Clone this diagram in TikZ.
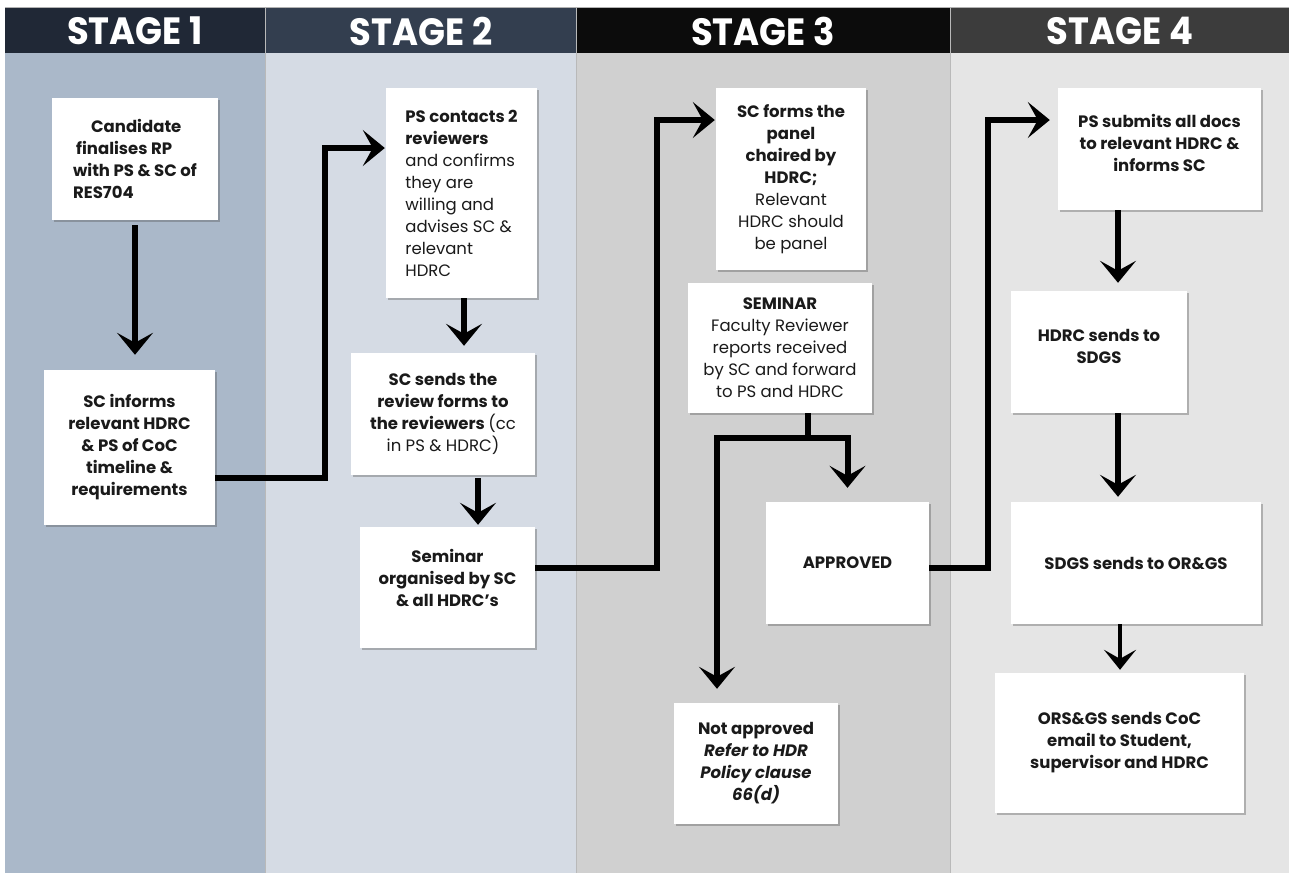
\documentclass[tikz,border=0pt]{standalone}
\usepackage{fontspec}
\setmainfont{Poppins}
\usetikzlibrary{arrows.meta,shadows,calc}
\definecolor{hA}{HTML}{202836}
\definecolor{hB}{HTML}{333E4F}
\definecolor{hC}{HTML}{0C0C0C}
\definecolor{hD}{HTML}{3C3C3C}
\definecolor{bA}{HTML}{AAB8C9}
\definecolor{bB}{HTML}{D5DBE4}
\definecolor{bC}{HTML}{D0D0D0}
\definecolor{bD}{HTML}{E5E5E5}
\definecolor{ink}{HTML}{1A1A1A}
\tikzset{
  box/.style={fill=white, inner sep=3pt, align=center, text=ink,
    font=\fontsize{16.5}{22}\selectfont,
    drop shadow={shadow xshift=1.5pt, shadow yshift=-2pt, opacity=0.35, fill=black!70}},
  hdrtext/.style={text=white, font=\fontsize{38}{38}\selectfont\bfseries},
  conn/.style={line width=6pt, draw=black},
  arr/.style={conn, -{Stealth[length=22pt,width=36pt,inset=10pt]}},
}
\begin{document}
\begin{tikzpicture}[x=1pt,y=-1pt]
\useasboundingbox (0,0) rectangle (1291,876);
\fill[white] (0,0) rectangle (1291,876);
% columns
\fill[bA] (5,53) rectangle (265,873);
\fill[bB] (265,53) rectangle (576,873);
\fill[bC] (576,53) rectangle (950,873);
\fill[bD] (950,53) rectangle (1289,873);
\fill[hA] (5,8) rectangle (265,53);
\fill[hB] (265,8) rectangle (576,53);
\fill[hC] (576,8) rectangle (950,53);
\fill[hD] (950,8) rectangle (1289,53);
\draw[gray!60, line width=0.8pt] (5,7.5) -- (1289,7.5);
\draw[gray!55, line width=1pt] (265,8) -- (265,873) (576,8) -- (576,873) (950,8) -- (950,873);
% headers
\node[hdrtext] (h1) at (135,31) {\scalebox{0.93}[1]{STAGE 1}};
\node[hdrtext] (h2) at (421,31) {\scalebox{0.93}[1]{STAGE 2}};
\node[hdrtext] (h3) at (763,31) {\scalebox{0.93}[1]{STAGE 3}};
\node[hdrtext] (h4) at (1120,31) {\scalebox{0.93}[1]{STAGE 4}};
% boxes
\node[box, minimum width=166pt, minimum height=122pt, align=left] (b1) at (135,159)
  {\bfseries\hspace*{18pt}Candidate\\ \bfseries\hspace*{3pt}finalises RP\\ \bfseries with PS \& SC of\\ \bfseries RES704};
\node[box, minimum width=171pt, minimum height=155pt] (b2) at (129.5,447.5)
  {\bfseries SC informs\\ \bfseries relevant HDRC\\ \bfseries \& PS of CoC\\ \bfseries timeline \&\\ \bfseries requirements};
\node[box, minimum width=151pt, minimum height=210pt, align=left] (b3) at (461.5,193)
  {\bfseries PS contacts 2\\ \bfseries reviewers\\ and confirms\\ they are\\ willing and\\ advises SC \&\\ relevant\\ HDRC};
\node[box, minimum width=184pt, minimum height=122pt] (b4) at (443,414)
  {\bfseries SC sends the\\ \bfseries review forms to\\ \bfseries the reviewers \mdseries(cc\\ in PS \& HDRC)};
\node[box, minimum width=175pt, minimum height=121pt, text depth=20pt] (b5) at (447.5,587.5)
  {\bfseries Seminar\\ \bfseries organised by SC\\ \bfseries \& all HDRC's};
\node[box, minimum width=150pt, minimum height=182pt] (b6) at (791,179)
  {\bfseries SC forms the\\ \bfseries panel\\ \bfseries chaired by\\ \bfseries HDRC;\\ Relevant\\ HDRC should\\ be panel};
\node[box, minimum width=184pt, minimum height=130pt] (b7) at (780,348)
  {\bfseries SEMINAR\\ Faculty Reviewer\\ reports received\\ by SC and forward\\ to PS and HDRC};
\node[box, minimum width=163pt, minimum height=122pt] (b8) at (847.5,563)
  {\bfseries APPROVED};
\node[box, minimum width=164pt, minimum height=121pt] (b9) at (756,763.5)
  {\bfseries Not approved\\ \bfseries\itshape Refer to HDR\\ \bfseries\itshape Policy clause\\ \bfseries\itshape 66(d)};
\node[box, minimum width=203pt, minimum height=122pt, text depth=12pt] (b10) at (1159.5,149)
  {\bfseries PS submits all docs\\ \bfseries to relevant HDRC \&\\ \bfseries informs SC};
\node[box, minimum width=176pt, minimum height=122pt, text depth=12pt] (b11) at (1099,352)
  {\bfseries HDRC sends to\\ \bfseries SDGS};
\node[box, minimum width=250pt, minimum height=122pt] (b12) at (1136,563)
  {\bfseries SDGS sends to OR\&GS};
\node[box, minimum width=249pt, minimum height=140pt] (b13) at (1119.5,743)
  {\bfseries ORS\&GS sends CoC\\ \bfseries email to Student,\\ \bfseries supervisor and HDRC};
% connectors
\draw[arr, shorten <=5pt, shorten >=15pt] (b1.south) -- (b1.south |- b2.north);
\draw[arr, shorten >=1pt] ([yshift=-30.5pt]b2.east) -- ++(110,0) |- ([yshift=45pt]b3.west);
\draw[arr, shorten <=0pt, shorten >=7pt] ([xshift=2.5pt]b3.south) -- ([xshift=2.5pt]b3.south |- b4.north);
\draw[arr, shorten <=3pt, shorten >=2pt] ([xshift=35pt]b4.south) -- ([xshift=35pt]b4.south |- b5.north);
\draw[arr, shorten >=1pt] ([yshift=19.5pt]b5.east) -- ++(122,0) |- ([yshift=59pt]b6.west);
\coordinate (j) at ([xshift=28pt,yshift=-25pt]b7.south);
\draw[conn] ([xshift=28pt]b7.south) -- (j);
\draw[arr, shorten >=14pt] (j) -| (b8.north);
\draw[arr, shorten >=14pt] (j) -| ([xshift=-39pt]b9.north);
\draw[arr, shorten >=8pt] ([yshift=-5pt]b8.east) -- ++(59,0) |- ([yshift=29pt]b10.west);
\draw[arr, shorten >=8pt] ([xshift=-41.5pt]b10.south) -- ([xshift=-41.5pt]b10.south |- b11.north);
\draw[arr, shorten >=5pt] ([xshift=19pt]b11.south) -- ([xshift=19pt]b11.south |- b12.north);
\draw[line width=4.5pt, -{Stealth[length=20pt,width=32pt,inset=9pt]}, shorten >=3pt] ([xshift=-16pt]b12.south) -- ([xshift=-16pt]b12.south |- b13.north);
\end{tikzpicture}
\end{document}
